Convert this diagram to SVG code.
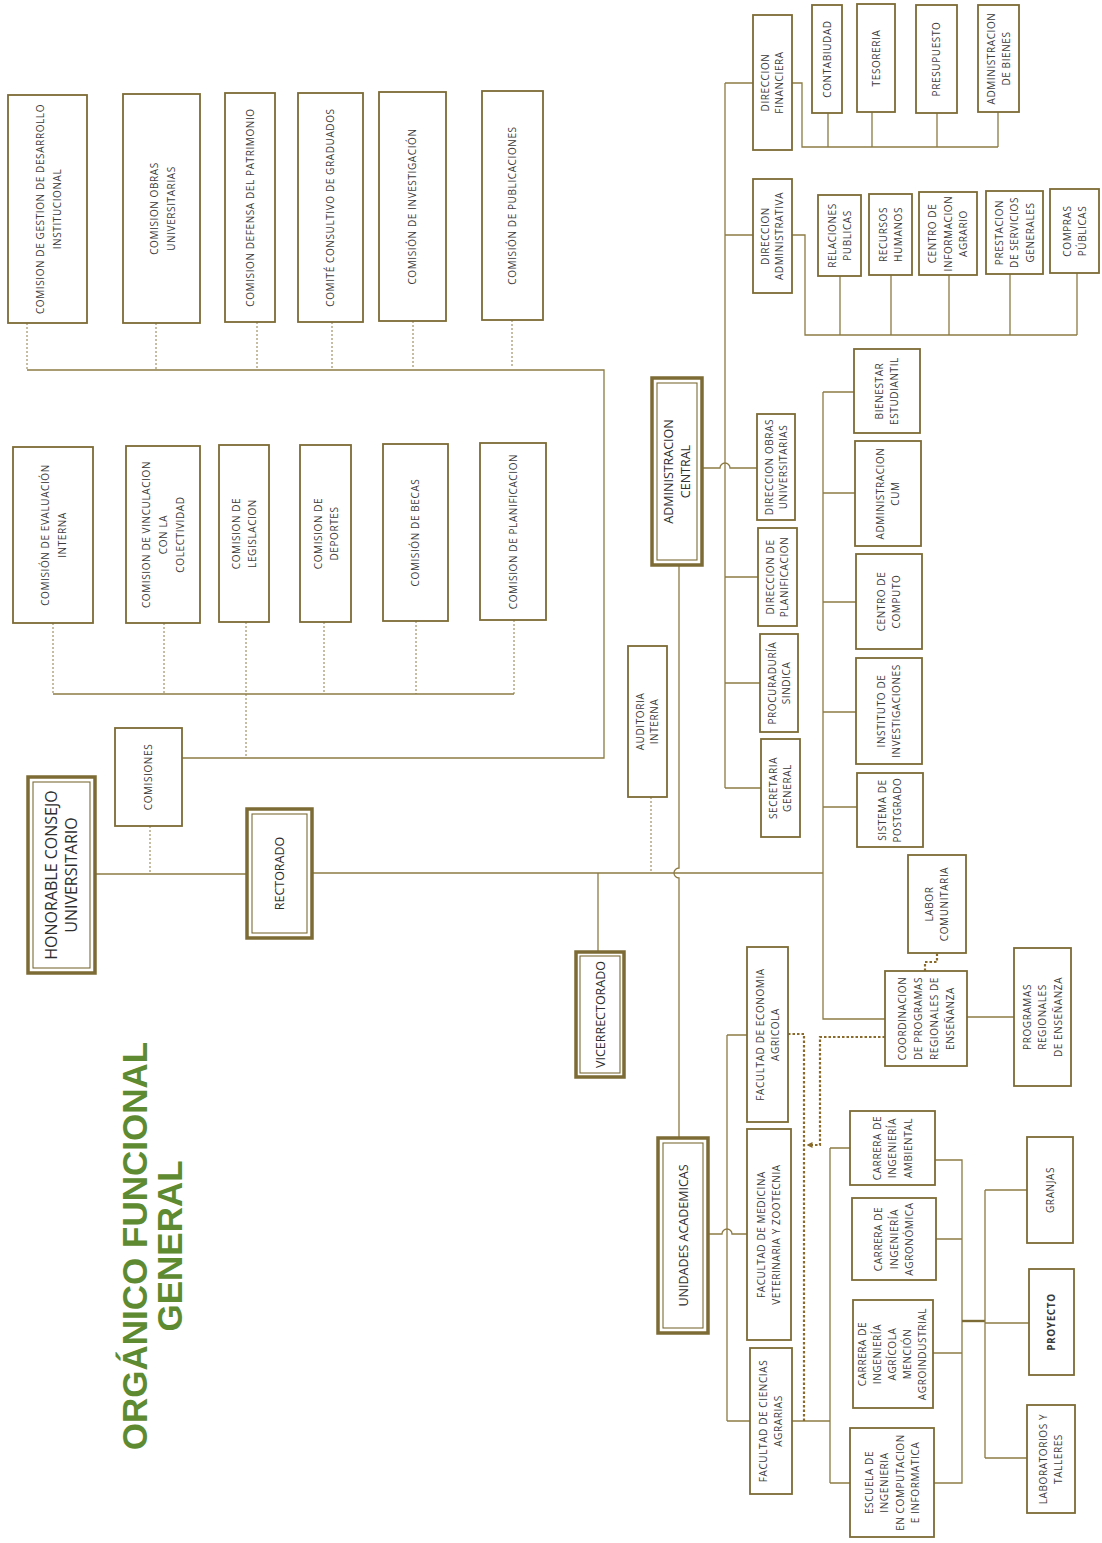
<svg xmlns="http://www.w3.org/2000/svg" width="1102" height="1543" viewBox="0 0 1102 1543">
<style>
.b{fill:#fff;stroke:#7d6b35;stroke-width:1.8}
.bo{fill:#fff;stroke:#7d6b35;stroke-width:3.5}
.bi{fill:none;stroke:#7d6b35;stroke-width:1.1}
.c{fill:none;stroke:#8d7b44;stroke-width:1.3}
.ct{fill:none;stroke:#7d6b35;stroke-width:2.4}
.d{fill:none;stroke:#8d7b44;stroke-width:1;stroke-dasharray:2 2}
.dd{fill:none;stroke:#8a6a2a;stroke-width:2.2;stroke-dasharray:2.5 2}
.t{font-family:"Open Sans","Liberation Sans",sans-serif;font-size:10px;fill:#3a3a3a;text-anchor:middle;letter-spacing:0.6px}
.tl{font-family:"Open Sans","Liberation Sans",sans-serif;font-size:12.5px;fill:#2e2e2e;text-anchor:middle}
.th{font-family:"Open Sans","Liberation Sans",sans-serif;font-size:16px;fill:#2e2e2e;text-anchor:middle}
.ti{font-family:"Liberation Sans",Arial,sans-serif;font-size:35px;font-weight:bold;fill:#5e8b31;text-anchor:middle}
</style>
<defs>
<marker id="ar" viewBox="0 0 8 8" refX="6" refY="4" markerWidth="6" markerHeight="6" orient="auto" markerUnits="userSpaceOnUse">
<path d="M0,0 L8,4 L0,8 Z" fill="#8a6a2a"/>
</marker>
</defs>
<rect width="1102" height="1543" fill="#fff"/>

<g id="title">
<text class="ti" x="147" y="1246" transform="rotate(-90 147 1246)">ORGÁNICO FUNCIONAL</text>
<text class="ti" x="182" y="1246" transform="rotate(-90 182 1246)">GENERAL</text>
</g>

<g id="connectors">
<path class="c" d="M27,370 H604 V758 H182"/>
<path class="c" d="M53,694 H514"/>
<path class="c" d="M95,874 H247 M312,873 H823"/>
<path class="c" d="M598,873 V952"/>
<path class="c" d="M679,565 V868 a5,5 0 0 0 0,10 V1138"/>
<path class="c" d="M725,83 V788 M725,83 H753 M725,235 H753 M725,577 H758 M725,683 H760 M725,788 H761"/>
<path class="c" d="M702,468 H720 a5,5 0 0 1 10,0 H757"/>
<path class="c" d="M792,83 H802 V147 H998 M828,113 V147 M872,112 V147 M937,113 V147 M998,112 V147"/>
<path class="c" d="M792,235 H805 V335 H1077 M840,276 V335 M891,275 V335 M949,275 V335 M1010,274 V335 M1077,273 V335"/>
<path class="c" d="M823,392 V1019 H885 M823,392 H854 M823,493 H855 M823,602 H856 M823,712 H856 M823,807 H857"/>
<path class="c" d="M967,1017 H1014"/>
<path class="c" d="M727,1035 V1421 M727,1035 H747 M727,1421 H750"/>
<path class="c" d="M708,1234 H722 a5,5 0 0 1 10,0 H747"/>
<path class="c" d="M792,1421 H830 M830,1148 V1483 M830,1148 H850 M830,1483 H850"/>
<path class="c" d="M935,1160 H962 V1483 H934 M936,1239 H962 M933,1353 H962"/>
<path class="ct" d="M962,1321 H985"/>
<path class="c" d="M985,1190 V1458 M985,1190 H1027 M985,1323 H1029 M985,1458 H1027"/>
<path class="d" d="M27,323 V370 M156,323 V370 M257,322 V370 M332,322 V370 M413,321 V368 M512,320 V368"/>
<path class="d" d="M53,623 V694 M164,623 V694 M246,622 V758 M324,622 V694 M416,621 V694 M514,620 V694"/>
<path class="d" d="M150,826 V873 M651,797 V872"/>
<path class="dd" d="M788,1034 H804 V1421"/>
<path class="dd" d="M885,1037 H820 V1145 H808" marker-end="url(#ar)"/>
<path class="dd" d="M925,971 V962 H937 V953"/>
</g>

<g id="n_gestion"><rect class="b" x="8" y="95" width="79" height="228"/>
<text class="t" x="47.5" y="209" transform="rotate(-90 47.5 209)"><tspan x="47.5" dy="-4">COMISION DE GESTION DE DESARROLLO</tspan><tspan x="47.5" dy="17">INSTITUCIONAL</tspan></text></g>
<g id="n_obras_com"><rect class="b" x="123" y="94" width="77" height="229"/>
<text class="t" x="161.5" y="208.5" transform="rotate(-90 161.5 208.5)"><tspan x="161.5" dy="-4">COMISION OBRAS</tspan><tspan x="161.5" dy="17">UNIVERSITARIAS</tspan></text></g>
<g id="n_patrimonio"><rect class="b" x="225" y="93" width="50" height="229"/>
<text class="t" x="250" y="207.5" transform="rotate(-90 250 207.5)"><tspan x="250" dy="3.5">COMISION DEFENSA DEL PATRIMONIO</tspan></text></g>
<g id="n_graduados"><rect class="b" x="298" y="93" width="65" height="229"/>
<text class="t" x="330.5" y="207.5" transform="rotate(-90 330.5 207.5)"><tspan x="330.5" dy="3.5">COMITÉ CONSULTIVO DE GRADUADOS</tspan></text></g>
<g id="n_investigacion"><rect class="b" x="379" y="92" width="67" height="229"/>
<text class="t" x="412.5" y="206.5" transform="rotate(-90 412.5 206.5)"><tspan x="412.5" dy="3.5">COMISIÓN DE INVESTIGACIÓN</tspan></text></g>
<g id="n_publicaciones"><rect class="b" x="482" y="91" width="61" height="229"/>
<text class="t" x="512.5" y="205.5" transform="rotate(-90 512.5 205.5)"><tspan x="512.5" dy="3.5">COMISIÓN DE PUBLICACIONES</tspan></text></g>

<g id="n_evaluacion"><rect class="b" x="13" y="447" width="80" height="176"/>
<text class="t" x="53" y="535" transform="rotate(-90 53 535)"><tspan x="53" dy="-4">COMISIÓN DE EVALUACIÓN</tspan><tspan x="53" dy="17">INTERNA</tspan></text></g>
<g id="n_vinculacion"><rect class="b" x="126" y="446" width="74" height="177"/>
<text class="t" x="163" y="534.5" transform="rotate(-90 163 534.5)"><tspan x="163" dy="-13.5">COMISION DE VINCULACION</tspan><tspan x="163" dy="17">CON LA</tspan><tspan x="163" dy="17">COLECTIVIDAD</tspan></text></g>
<g id="n_legislacion"><rect class="b" x="219" y="445" width="50" height="177"/>
<text class="t" x="244" y="533.5" transform="rotate(-90 244 533.5)"><tspan x="244" dy="-4">COMISION DE</tspan><tspan x="244" dy="16">LEGISLACION</tspan></text></g>
<g id="n_deportes"><rect class="b" x="300" y="445" width="51" height="177"/>
<text class="t" x="325.5" y="533.5" transform="rotate(-90 325.5 533.5)"><tspan x="325.5" dy="-4">COMISION DE</tspan><tspan x="325.5" dy="16">DEPORTES</tspan></text></g>
<g id="n_becas"><rect class="b" x="383" y="444" width="65" height="177"/>
<text class="t" x="415.5" y="532.5" transform="rotate(-90 415.5 532.5)"><tspan x="415.5" dy="3.5">COMISIÓN DE BECAS</tspan></text></g>
<g id="n_planificacion_com"><rect class="b" x="480" y="443" width="66" height="177"/>
<text class="t" x="513" y="531.5" transform="rotate(-90 513 531.5)"><tspan x="513" dy="3.5">COMISION DE PLANIFICACION</tspan></text></g>

<g id="n_comisiones"><rect class="b" x="115" y="728" width="67" height="98"/>
<text class="t" x="148.5" y="777" transform="rotate(-90 148.5 777)"><tspan x="148.5" dy="3.5">COMISIONES</tspan></text></g>
<g id="n_honorable"><rect class="bo" x="28" y="777" width="67" height="196"/><rect class="bi" x="33" y="782" width="57" height="186"/>
<text class="th" x="61.5" y="875" transform="rotate(-90 61.5 875)"><tspan x="61.5" dy="-4.5">HONORABLE CONSEJO</tspan><tspan x="61.5" dy="20">UNIVERSITARIO</tspan></text></g>
<g id="n_rectorado"><rect class="bo" x="247" y="809" width="65" height="129"/><rect class="bi" x="252" y="814" width="55" height="119"/>
<text class="tl" x="279.5" y="873.5" transform="rotate(-90 279.5 873.5)"><tspan x="279.5" dy="4.5">RECTORADO</tspan></text></g>
<g id="n_auditoria"><rect class="b" x="628" y="646" width="39" height="151"/>
<text class="t" x="647.5" y="721.5" transform="rotate(-90 647.5 721.5)"><tspan x="647.5" dy="-3.5">AUDITORIA</tspan><tspan x="647.5" dy="14">INTERNA</tspan></text></g>
<g id="n_admin_central"><rect class="bo" x="652" y="378" width="50" height="187"/><rect class="bi" x="657" y="383" width="40" height="177"/>
<text class="tl" x="677" y="471.5" transform="rotate(-90 677 471.5)"><tspan x="677" dy="-4">ADMINISTRACION</tspan><tspan x="677" dy="17">CENTRAL</tspan></text></g>
<g id="n_vicerrectorado"><rect class="bo" x="576" y="952" width="48" height="125"/><rect class="bi" x="580" y="956" width="40" height="117"/>
<text class="tl" x="600" y="1014.5" transform="rotate(-90 600 1014.5)"><tspan x="600" dy="4.5">VICERRECTORADO</tspan></text></g>
<g id="n_unidades"><rect class="bo" x="658" y="1138" width="50" height="195"/><rect class="bi" x="663" y="1143" width="40" height="185"/>
<text class="tl" x="683" y="1235.5" transform="rotate(-90 683 1235.5)"><tspan x="683" dy="4.5">UNIDADES ACADEMICAS</tspan></text></g>

<g id="n_dir_financiera"><rect class="b" x="753" y="15" width="39" height="135"/>
<text class="t" x="772.5" y="82.5" transform="rotate(-90 772.5 82.5)"><tspan x="772.5" dy="-3.5">DIRECCION</tspan><tspan x="772.5" dy="14">FINANCIERA</tspan></text></g>
<g id="n_contabilidad"><rect class="b" x="812" y="5" width="30" height="108"/>
<text class="t" x="827" y="59" transform="rotate(-90 827 59)"><tspan x="827" dy="3.5">CONTABIUDAD</tspan></text></g>
<g id="n_tesoreria"><rect class="b" x="857" y="4" width="38" height="108"/>
<text class="t" x="876" y="58" transform="rotate(-90 876 58)"><tspan x="876" dy="3.5">TESORERIA</tspan></text></g>
<g id="n_presupuesto"><rect class="b" x="916" y="5" width="41" height="108"/>
<text class="t" x="936.5" y="59" transform="rotate(-90 936.5 59)"><tspan x="936.5" dy="3.5">PRESUPUESTO</tspan></text></g>
<g id="n_adm_bienes"><rect class="b" x="978" y="5" width="41" height="107"/>
<text class="t" x="998.5" y="58.5" transform="rotate(-90 998.5 58.5)"><tspan x="998.5" dy="-4">ADMINISTRACION</tspan><tspan x="998.5" dy="15">DE BIENES</tspan></text></g>

<g id="n_dir_administrativa"><rect class="b" x="753" y="179" width="39" height="114"/>
<text class="t" x="772.5" y="236" transform="rotate(-90 772.5 236)"><tspan x="772.5" dy="-3.5">DIRECCION</tspan><tspan x="772.5" dy="14">ADMINISTRATIVA</tspan></text></g>
<g id="n_relaciones"><rect class="b" x="818" y="195" width="43" height="81"/>
<text class="t" x="839.5" y="235.5" transform="rotate(-90 839.5 235.5)"><tspan x="839.5" dy="-4">RELACIONES</tspan><tspan x="839.5" dy="15">PUBLICAS</tspan></text></g>
<g id="n_rrhh"><rect class="b" x="869" y="194" width="43" height="81"/>
<text class="t" x="890.5" y="234.5" transform="rotate(-90 890.5 234.5)"><tspan x="890.5" dy="-4">RECURSOS</tspan><tspan x="890.5" dy="15">HUMANOS</tspan></text></g>
<g id="n_centro_info"><rect class="b" x="919" y="192" width="58" height="83"/>
<text class="t" x="948" y="233.5" transform="rotate(-90 948 233.5)"><tspan x="948" dy="-12">CENTRO DE</tspan><tspan x="948" dy="15.5">INFORMACION</tspan><tspan x="948" dy="15.5">AGRARIO</tspan></text></g>
<g id="n_prestacion"><rect class="b" x="986" y="191" width="57" height="83"/>
<text class="t" x="1014.5" y="232.5" transform="rotate(-90 1014.5 232.5)"><tspan x="1014.5" dy="-12">PRESTACION</tspan><tspan x="1014.5" dy="15.5">DE SERVICIOS</tspan><tspan x="1014.5" dy="15.5">GENERALES</tspan></text></g>
<g id="n_compras"><rect class="b" x="1050" y="189" width="49" height="84"/>
<text class="t" x="1074.5" y="231" transform="rotate(-90 1074.5 231)"><tspan x="1074.5" dy="-4">COMPRAS</tspan><tspan x="1074.5" dy="15">PÚBLICAS</tspan></text></g>

<g id="n_dir_obras"><rect class="b" x="757" y="414" width="38" height="106"/>
<text class="t" x="776" y="467" transform="rotate(-90 776 467)"><tspan x="776" dy="-3.5">DIRECCION OBRAS</tspan><tspan x="776" dy="14">UNIVERSITARIAS</tspan></text></g>
<g id="n_dir_planificacion"><rect class="b" x="758" y="528" width="39" height="98"/>
<text class="t" x="777.5" y="577" transform="rotate(-90 777.5 577)"><tspan x="777.5" dy="-3.5">DIRECCION DE</tspan><tspan x="777.5" dy="14">PLANIFICACION</tspan></text></g>
<g id="n_procuraduria"><rect class="b" x="760" y="634" width="38" height="98"/>
<text class="t" x="779" y="683" transform="rotate(-90 779 683)"><tspan x="779" dy="-3.5">PROCURADURÍA</tspan><tspan x="779" dy="14">SINDICA</tspan></text></g>
<g id="n_secretaria"><rect class="b" x="761" y="739" width="39" height="98"/>
<text class="t" x="780.5" y="788" transform="rotate(-90 780.5 788)"><tspan x="780.5" dy="-3.5">SECRETARIA</tspan><tspan x="780.5" dy="14">GENERAL</tspan></text></g>

<g id="n_bienestar"><rect class="b" x="854" y="349" width="66" height="84"/>
<text class="t" x="887" y="391" transform="rotate(-90 887 391)"><tspan x="887" dy="-4">BIENESTAR</tspan><tspan x="887" dy="15">ESTUDIANTIL</tspan></text></g>
<g id="n_adm_cum"><rect class="b" x="855" y="441" width="66" height="105"/>
<text class="t" x="888" y="493.5" transform="rotate(-90 888 493.5)"><tspan x="888" dy="-4">ADMINISTRACION</tspan><tspan x="888" dy="15">CUM</tspan></text></g>
<g id="n_centro_computo"><rect class="b" x="856" y="554" width="66" height="95"/>
<text class="t" x="889" y="601.5" transform="rotate(-90 889 601.5)"><tspan x="889" dy="-4">CENTRO DE</tspan><tspan x="889" dy="15">COMPUTO</tspan></text></g>
<g id="n_instituto"><rect class="b" x="856" y="658" width="66" height="106"/>
<text class="t" x="889" y="711" transform="rotate(-90 889 711)"><tspan x="889" dy="-4">INSTITUTO DE</tspan><tspan x="889" dy="15">INVESTIGACIONES</tspan></text></g>
<g id="n_postgrado"><rect class="b" x="857" y="773" width="66" height="74"/>
<text class="t" x="890" y="810" transform="rotate(-90 890 810)"><tspan x="890" dy="-4">SISTEMA DE</tspan><tspan x="890" dy="15">POSTGRADO</tspan></text></g>

<g id="n_labor"><rect class="b" x="908" y="855" width="58" height="98"/>
<text class="t" x="937" y="904" transform="rotate(-90 937 904)"><tspan x="937" dy="-4">LABOR</tspan><tspan x="937" dy="15">COMUNITARIA</tspan></text></g>
<g id="n_coordinacion"><rect class="b" x="885" y="971" width="82" height="95"/>
<text class="t" x="926" y="1018.5" transform="rotate(-90 926 1018.5)"><tspan x="926" dy="-20.5">COORDINACION</tspan><tspan x="926" dy="16">DE PROGRAMAS</tspan><tspan x="926" dy="16">REGIONALES DE</tspan><tspan x="926" dy="16">ENSEÑANZA</tspan></text></g>
<g id="n_programas"><rect class="b" x="1014" y="948" width="57" height="138"/>
<text class="t" x="1042.5" y="1017" transform="rotate(-90 1042.5 1017)"><tspan x="1042.5" dy="-12">PROGRAMAS</tspan><tspan x="1042.5" dy="15.5">REGIONALES</tspan><tspan x="1042.5" dy="15.5">DE ENSEÑANZA</tspan></text></g>

<g id="n_fac_economia"><rect class="b" x="747" y="947" width="41" height="175"/>
<text class="t" x="767.5" y="1034.5" transform="rotate(-90 767.5 1034.5)"><tspan x="767.5" dy="-4">FACULTAD DE ECONOMIA</tspan><tspan x="767.5" dy="15">AGRICOLA</tspan></text></g>
<g id="n_fac_medicina"><rect class="b" x="747" y="1129" width="44" height="211"/>
<text class="t" x="769" y="1234.5" transform="rotate(-90 769 1234.5)"><tspan x="769" dy="-4">FACULTAD DE MEDICINA</tspan><tspan x="769" dy="15">VETERINARIA Y ZOOTECNIA</tspan></text></g>
<g id="n_fac_ciencias"><rect class="b" x="750" y="1348" width="42" height="146"/>
<text class="t" x="771" y="1421" transform="rotate(-90 771 1421)"><tspan x="771" dy="-4">FACULTAD DE CIENCIAS</tspan><tspan x="771" dy="15">AGRARIAS</tspan></text></g>

<g id="n_ambiental"><rect class="b" x="850" y="1111" width="85" height="74"/>
<text class="t" x="892.5" y="1148" transform="rotate(-90 892.5 1148)"><tspan x="892.5" dy="-12">CARRERA DE</tspan><tspan x="892.5" dy="15.5">INGENIERÍA</tspan><tspan x="892.5" dy="15.5">AMBIENTAL</tspan></text></g>
<g id="n_agronomica"><rect class="b" x="852" y="1198" width="84" height="82"/>
<text class="t" x="894" y="1239" transform="rotate(-90 894 1239)"><tspan x="894" dy="-12">CARRERA DE</tspan><tspan x="894" dy="15.5">INGENIERÍA</tspan><tspan x="894" dy="15.5">AGRONÓMICA</tspan></text></g>
<g id="n_agricola"><rect class="b" x="853" y="1300" width="80" height="108"/>
<text class="t" x="893" y="1354" transform="rotate(-90 893 1354)"><tspan x="893" dy="-27">CARRERA DE</tspan><tspan x="893" dy="15">INGENIERÍA</tspan><tspan x="893" dy="15">AGRÍCOLA</tspan><tspan x="893" dy="15">MENCIÓN</tspan><tspan x="893" dy="15">AGROINDUSTRIAL</tspan></text></g>
<g id="n_escuela"><rect class="b" x="850" y="1428" width="84" height="109"/>
<text class="t" x="892" y="1482.5" transform="rotate(-90 892 1482.5)"><tspan x="892" dy="-19.5">ESCUELA DE</tspan><tspan x="892" dy="15.5">INGENIERIA</tspan><tspan x="892" dy="15.5">EN COMPUTACION</tspan><tspan x="892" dy="15.5">E INFORMATICA</tspan></text></g>
<g id="n_granjas"><rect class="b" x="1027" y="1137" width="46" height="106"/>
<text class="t" x="1050" y="1190" transform="rotate(-90 1050 1190)"><tspan x="1050" dy="3.5">GRANJAS</tspan></text></g>
<g id="n_proyecto"><rect class="b" x="1029" y="1269" width="45" height="106"/>
<text class="t" x="1051.5" y="1322" transform="rotate(-90 1051.5 1322)" font-weight="bold"><tspan x="1051.5" dy="3.5">PROYECTO</tspan></text></g>
<g id="n_laboratorios"><rect class="b" x="1027" y="1405" width="48" height="108"/>
<text class="t" x="1051" y="1459" transform="rotate(-90 1051 1459)"><tspan x="1051" dy="-4">LABORATORIOS Y</tspan><tspan x="1051" dy="15">TALLERES</tspan></text></g>
</svg>
